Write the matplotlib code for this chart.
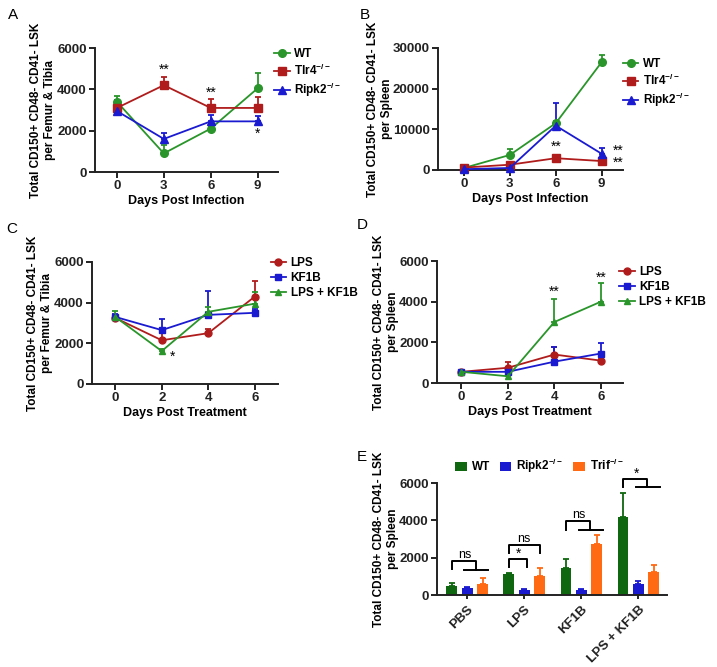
import matplotlib
matplotlib.use("Agg")
import matplotlib.pyplot as plt
import numpy as np

plt.rcParams["font.family"] = ["Liberation Sans", "DejaVu Sans"]
plt.rcParams["font.weight"] = "bold"
plt.rcParams["axes.labelweight"] = "bold"
plt.rcParams["mathtext.fontset"] = "custom"
plt.rcParams["mathtext.rm"] = "Liberation Sans:bold"
plt.rcParams["mathtext.bf"] = "Liberation Sans:bold"
plt.rcParams["mathtext.default"] = "bf"

# ---- data ----
days_inf = [0, 3, 6, 9]
bm_wt = [3400, 900, 2100, 4050]
bm_wt_err = [300, 400, 100, 750]
bm_tlr4 = [3100, 4200, 3100, 3100]
bm_tlr4_err = [200, 420, 450, 550]
bm_ripk2 = [2950, 1600, 2450, 2450]
bm_ripk2_err = [550, 300, 300, 250]

sp_wt = [500, 3700, 11500, 26500]
sp_wt_err = [200, 1500, 600, 1800]
sp_tlr4 = [600, 1300, 2900, 2200]
sp_tlr4_err = [200, 300, 800, 600]
sp_ripk2 = [200, 500, 10900, 4000]
sp_ripk2_err = [100, 200, 5500, 1300]

days_trt = [0, 2, 4, 6]
bmt_lps = [3250, 2150, 2500, 4300]
bmt_lps_err = [150, 500, 200, 750]
bmt_kf1b = [3300, 2650, 3400, 3500]
bmt_kf1b_err = [150, 550, 1150, 200]
bmt_combo = [3300, 1620, 3550, 3950]
bmt_combo_err = [300, 80, 250, 550]

spt_lps = [550, 750, 1400, 1100]
spt_lps_err = [50, 300, 350, 80]
spt_kf1b = [550, 550, 1050, 1450]
spt_kf1b_err = [50, 250, 700, 500]
spt_combo = [550, 330, 3000, 4000]
spt_combo_err = [50, 50, 1150, 900]

groups = ["PBS", "LPS", "KF1B", "LPS + KF1B"]
bar_wt = [500, 1100, 1450, 4200]
bar_wt_err = [160, 100, 500, 1250]
bar_ripk2 = [350, 250, 250, 600]
bar_ripk2_err = [80, 80, 80, 150]
bar_trif = [600, 1020, 2720, 1250]
bar_trif_err = [330, 400, 480, 350]

GREEN = "#2a952a"
RED = "#b01c1c"
BLUE = "#1a1ad0"
DKGREEN = "#0f670f"
ORANGE = "#ff6a12"

fig = plt.figure(figsize=(7.17, 6.67), dpi=100)
W, H = 717, 667


def add_ax(l, t, r, b):
    return fig.add_axes([l / W, 1 - b / H, (r - l) / W, (b - t) / H])


def style(ax):
    ax.spines[["top", "right"]].set_visible(False)
    for s in ("left", "bottom"):
        ax.spines[s].set_linewidth(1.4)
        ax.spines[s].set_color("#222222")
    ax.tick_params(width=1.4, length=4, labelsize=9.5, pad=2, colors="#222222")
    for lab in ax.get_xticklabels() + ax.get_yticklabels():
        lab.set_fontweight("bold")


def series(ax, x, y, err, color, marker, label, ms=5.5):
    ax.errorbar(x, y, yerr=[np.zeros(len(err)), err], color=color, marker=marker,
                ms=ms, lw=1.3, elinewidth=1.3, capsize=2.2, capthick=1.3,
                label=label, clip_on=False, zorder=3)


def legend(ax, x0, y0):
    h, l = ax.get_legend_handles_labels()
    h = [hh[0] for hh in h]
    ax.legend(h, l, loc="upper left", bbox_to_anchor=(x0, y0), frameon=False,
              fontsize=8.5, handlelength=1.3, handletextpad=0.4,
              labelspacing=0.25, borderaxespad=0, borderpad=0)


def star(ax, x, y, s, size=10):
    ax.text(x, y, s, ha="center", fontsize=size, fontweight="normal", clip_on=False)


ylab_bm = "Total CD150+ CD48- CD41- LSK\nper Femur & Tibia"
ylab_sp = "Total CD150+ CD48- CD41- LSK\nper Spleen"

# ---- A ----
axA = add_ax(95, 48, 278, 172)
series(axA, days_inf, bm_wt, bm_wt_err, GREEN, "o", "WT")
series(axA, days_inf, bm_tlr4, bm_tlr4_err, RED, "s", r"Tlr4$^{-/-}$")
series(axA, days_inf, bm_ripk2, bm_ripk2_err, BLUE, "^", r"Ripk2$^{-/-}$")
axA.set_xlim(-1.4, 10.3)
axA.set_ylim(0, 6000)
axA.set_xticks(days_inf)
axA.set_yticks([0, 2000, 4000, 6000])
axA.set_xlabel("Days Post Infection", fontsize=9, labelpad=2)
axA.set_ylabel(ylab_bm, fontsize=8.5, labelpad=1)
star(axA, 3, 4750, "**")
star(axA, 6, 3650, "**")
star(axA, 9, 1650, "*")
style(axA)
legend(axA, 0.98, 1.0)

# ---- B ----
axB = add_ax(438, 48, 623, 170)
series(axB, days_inf, sp_wt, sp_wt_err, GREEN, "o", "WT")
series(axB, days_inf, sp_tlr4, sp_tlr4_err, RED, "s", r"Tlr4$^{-/-}$")
series(axB, days_inf, sp_ripk2, sp_ripk2_err, BLUE, "^", r"Ripk2$^{-/-}$")
axB.set_xlim(-1.7, 10.4)
axB.set_ylim(0, 30000)
axB.set_xticks(days_inf)
axB.set_yticks([0, 10000, 20000, 30000])
axB.set_xlabel("Days Post Infection", fontsize=9, labelpad=2)
axB.set_ylabel(ylab_sp, fontsize=8.5, labelpad=0)
star(axB, 6, 4800, "**")
star(axB, 10.1, 3800, "**")
star(axB, 10.1, 700, "**")
style(axB)
legend(axB, 1.0, 0.92)

# ---- C ----
axC = add_ax(92, 262, 278, 384)
series(axC, days_trt, bmt_lps, bmt_lps_err, RED, "o", "LPS", ms=5)
series(axC, days_trt, bmt_kf1b, bmt_kf1b_err, BLUE, "s", "KF1B", ms=5)
series(axC, days_trt, bmt_combo, bmt_combo_err, GREEN, "^", "LPS + KF1B", ms=5)
axC.set_xlim(-1.0, 7.0)
axC.set_ylim(0, 6000)
axC.set_xticks(days_trt)
axC.set_yticks([0, 2000, 4000, 6000])
axC.set_xlabel("Days Post Treatment", fontsize=9, labelpad=2)
axC.set_ylabel(ylab_bm, fontsize=8.5, labelpad=1)
star(axC, 2.45, 1150, "*")
style(axC)
legend(axC, 0.96, 1.04)

# ---- D ----
axD = add_ax(437, 261, 623, 383)
series(axD, days_trt, spt_lps, spt_lps_err, RED, "o", "LPS", ms=5)
series(axD, days_trt, spt_kf1b, spt_kf1b_err, BLUE, "s", "KF1B", ms=5)
series(axD, days_trt, spt_combo, spt_combo_err, GREEN, "^", "LPS + KF1B", ms=5)
axD.set_xlim(-1.05, 6.95)
axD.set_ylim(0, 6000)
axD.set_xticks(days_trt)
axD.set_yticks([0, 2000, 4000, 6000])
axD.set_xlabel("Days Post Treatment", fontsize=9, labelpad=2)
axD.set_ylabel(ylab_sp, fontsize=8.5, labelpad=0)
star(axD, 4, 4300, "**")
star(axD, 6, 5000, "**")
style(axD)
legend(axD, 0.98, 0.96)

# ---- E ----
axE = add_ax(437, 483, 667, 595)
xg = np.arange(len(groups))
bw, off = 0.19, 0.27
ek = dict(elinewidth=1.3, capsize=2.2, capthick=1.3)
axE.bar(xg - off, bar_wt, bw, color=DKGREEN, label="WT",
        yerr=[np.zeros(4), bar_wt_err], ecolor=DKGREEN, error_kw=ek)
axE.bar(xg, bar_ripk2, bw, color=BLUE, label=r"Ripk2$^{-/-}$",
        yerr=[np.zeros(4), bar_ripk2_err], ecolor=BLUE, error_kw=ek)
axE.bar(xg + off, bar_trif, bw, color=ORANGE, label=r"Trif$^{-/-}$",
        yerr=[np.zeros(4), bar_trif_err], ecolor=ORANGE, error_kw=ek)
axE.set_xlim(-0.53, 3.5)
axE.set_ylim(0, 6000)
axE.set_yticks([0, 2000, 4000, 6000])
axE.set_xticks(xg)
axE.set_xticklabels(groups, rotation=45, ha="right", rotation_mode="anchor")
axE.set_ylabel(ylab_sp, fontsize=8.5, labelpad=0)
style(axE)
axE.tick_params(axis="x", length=3, pad=3, labelsize=9.5)
axE.legend(loc="lower left", bbox_to_anchor=(0.08, 1.07), ncol=3, frameon=False,
           fontsize=8.5, handlelength=1.0, handleheight=0.8, handletextpad=0.4,
           columnspacing=0.8, borderaxespad=0, borderpad=0)


def bline(ax, xs, ys):
    ax.plot(xs, ys, color="black", lw=1.4, clip_on=False, zorder=4)


# brackets: WT vs (Ripk2, Trif) group -> (group, bottom, top, right end, label, label y)
brackets = [(0, 1400, 1820, 1350, "ns", 2000),
            (2, 3500, 3960, 3480, "ns", 4150),
            (3, 5770, 6200, 5770, "*", 6300)]
for g, yb, yt, yl, lab, ly in brackets:
    x0 = g - off
    bline(axE, [x0, x0, g + 0.15, g + 0.15], [yb, yt, yt, yl])
    bline(axE, [g - 0.05, g + 0.37], [yl, yl])
    star(axE, g - 0.04, ly, lab, 9 if lab == "ns" else 10)

# LPS: two brackets
bline(axE, [1 - off, 1 - off, 1.04, 1.04], [1520, 1910, 1910, 1520])
star(axE, 0.89, 2000, "*")
bline(axE, [1 - off, 1 - off, 1 + off, 1 + off], [2270, 2680, 2680, 2270])
star(axE, 1.0, 2850, "ns", 9)

# panel letters
for lab, x, y in [("A", 13, 15), ("B", 365, 15), ("C", 12, 229),
                  ("D", 362, 225), ("E", 362, 457)]:
    fig.text(x / W, 1 - y / H, lab, fontsize=11, fontweight="normal",
             ha="center", va="center")

fig.savefig("out.png", dpi=100)
